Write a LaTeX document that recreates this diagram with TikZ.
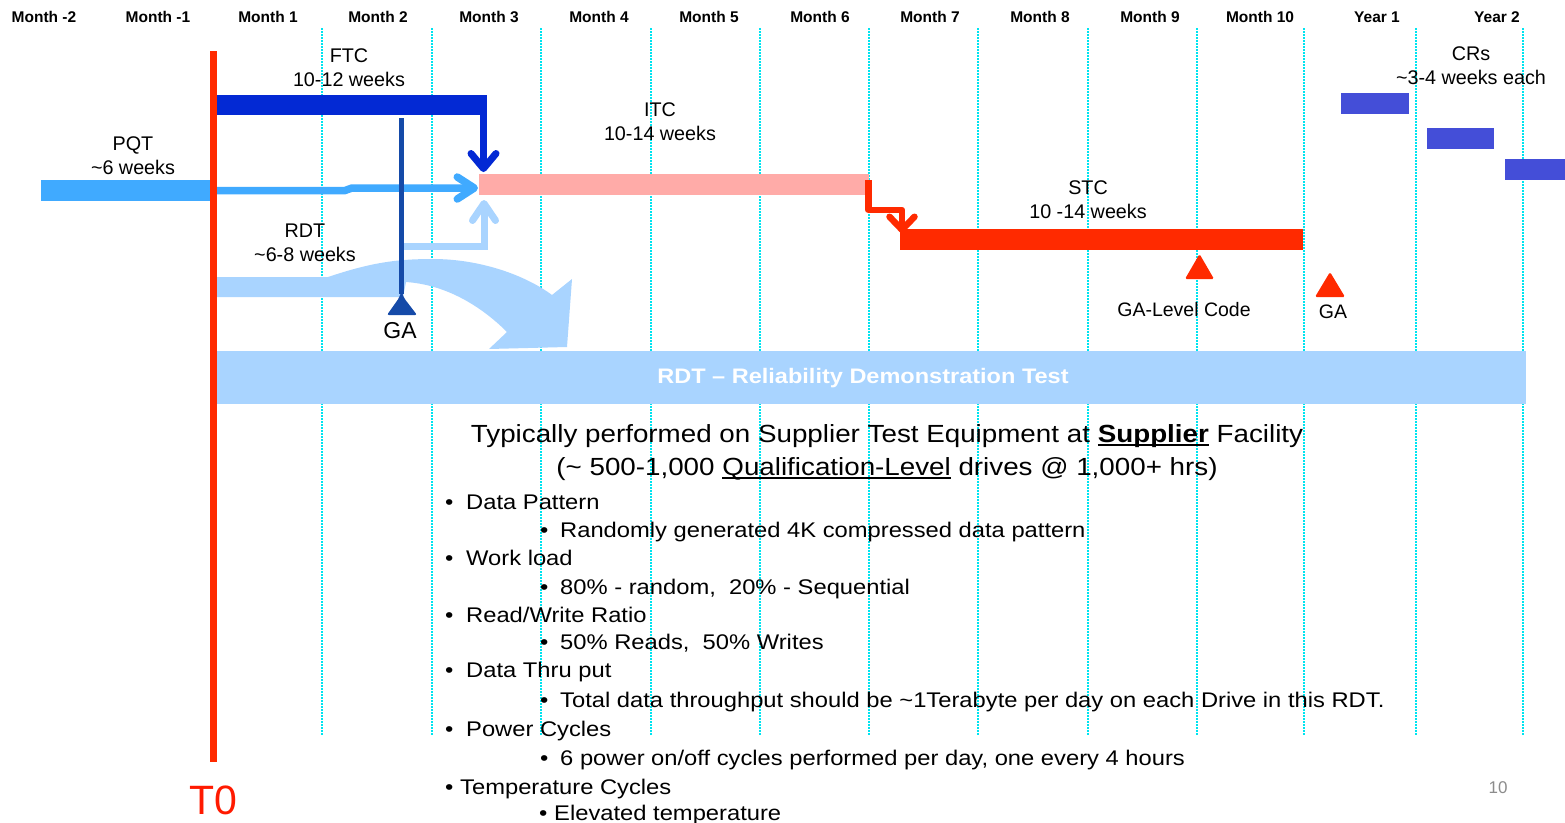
\documentclass[tikz,border=0pt]{standalone}
\usepackage{fontspec}
\setmainfont{Liberation Sans}
\newfontfamily\bodyfont[FakeStretch=1.12]{Liberation Sans}
\usetikzlibrary{arrows.meta}
\definecolor{tred}{HTML}{FF2A00}
\definecolor{tzred}{HTML}{FF1A00}
\definecolor{ftcblue}{HTML}{0329D4}
\definecolor{pqtblue}{HTML}{40AAFF}
\definecolor{rdtblue}{HTML}{A9D4FF}
\definecolor{itcpink}{HTML}{FFABA8}
\definecolor{gablue}{HTML}{154AA8}
\definecolor{crblue}{HTML}{444ED8}
\definecolor{gridcyan}{HTML}{00E4F0}
\definecolor{pagegray}{HTML}{8C8C8C}
\newcommand\myul[1]{\setbox0\hbox{#1}\rlap{\rule[-3.5pt]{\wd0}{1.8pt}}\box0\relax}
\begin{document}
\begin{tikzpicture}[x=1pt,y=-1pt,
  bar/.style={inner sep=0pt, outer sep=0pt, draw=none, anchor=north west},
  hdr/.style={font=\bfseries\fontsize{15.5}{18}\selectfont, inner sep=0pt},
  lbl/.style={font=\fontsize{19.75}{24}\selectfont, align=center, inner sep=0pt},
  gridline/.style={gridcyan, line width=2pt, dash pattern=on 1.6pt off 1.4pt},
  body/.style={font=\bodyfont\fontsize{21.2}{25}\selectfont, inner sep=0pt, anchor=base west},
  head/.style={font=\bodyfont\fontsize{24.8}{28}\selectfont, inner sep=0pt, anchor=base}
]
\fill[white] (0,0) rectangle (1565,822);
\useasboundingbox (0,0) rectangle (1565,822);

% grid
\foreach \gx in {322,432,541,651,760,869,978,1088,1197,1304,1416,1523}
  \draw[gridline] (\gx,28) -- (\gx,735);

% headers
\foreach \hx/\htxt [count=\hi] in {44/Month -2,158/Month -1,268/Month 1,378/Month 2,489/Month 3,599/Month 4,709/Month 5,820/Month 6,930/Month 7,1040/Month 8,1150/Month 9,1260/Month 10,1377/Year 1,1497/Year 2}
  \node[hdr] (hdr\hi) at (\hx,17) {\htxt};

% curved RDT arrow
\fill[rdtblue] (217,277) -- (328,277) .. controls (370,263) and (395,259) .. (433,259)
  .. controls (480,259) and (525,275) .. (552,295) -- (572,279) -- (567,347) -- (489,349)
  -- (507,332) .. controls (485,310) and (450,285) .. (406,282) -- (403,297) -- (217,297) -- cycle;

% bars
\node[bar, fill=pqtblue, minimum width=170pt, minimum height=21pt] (pqt) at (41,180) {};
\node[bar, fill=itcpink, minimum width=390pt, minimum height=21pt] (itc) at (479,174) {};
\node[bar, fill=crblue, minimum width=68pt, minimum height=21pt] (cr1) at (1341,93) {};
\node[bar, fill=crblue, minimum width=67pt, minimum height=21pt] (cr2) at (1427,128) {};
\node[bar, fill=crblue, minimum width=60pt, minimum height=21pt] (cr3) at (1505,159) {};
\node[bar, fill=rdtblue, minimum width=1309pt, minimum height=53pt] (banner) at (217,351) {};
\node[font=\bodyfont\bfseries\fontsize{21}{24}\selectfont, text=white, inner sep=0pt] (bannertext) at (863,378) {RDT – Reliability Demonstration Test};

% PQT connector
\coordinate (pqtk1) at (345,190.5);
\coordinate (pqtk2) at (352,188);
\coordinate (pqttip) at (478,188);
\draw[pqtblue, line width=7.5pt, -{Straight Barb[length=17pt,width=22pt,round]}] (pqt.east) -- (pqtk1) -- (pqtk2) -- (pqttip);

% RDT small connector
\coordinate (rdtstart) at (404,246.5);
\coordinate (rdttip) at (484,200);
\draw[rdtblue, line width=7pt, -{Straight Barb[length=17pt,width=23pt,round]}] (rdtstart) -| (rdttip);

% FTC bar and connector
\node[bar, fill=ftcblue, minimum width=270pt, minimum height=20pt] (ftc) at (217,95) {};
\coordinate (ftcdrop) at (483.5,110);
\coordinate (ftctip) at (483.5,172);
\draw[ftcblue, line width=7pt, -{Straight Barb[length=15pt,width=25pt,round]}] (ftcdrop) -- (ftctip);

% GA (blue)
\coordinate (gatop) at (401.5,118);
\coordinate (gaapex) at (401.5,294);
\draw[gablue, line width=5.5pt] (gatop) -- (gaapex);
\fill[gablue, rounded corners=2pt] (387,315) -- (399,298) -- (401.5,291) -- (404,298) -- (417,315) -- cycle;
\node[font=\fontsize{23}{26}\selectfont, inner sep=0pt] (galbl) at (400,331) {GA};

% STC connector and bar
\coordinate (stcfrom) at (868.5,180);
\coordinate (stcknee) at (902,210);
\coordinate (stctip) at (902,233);
\draw[tred, line width=6.5pt, line join=round, -{Straight Barb[length=13pt,width=25pt,round]}] (stcfrom) |- (stcknee) -- (stctip);
\node[bar, fill=tred, minimum width=403pt, minimum height=21pt] (stc) at (900,229) {};

% red milestones
\fill[tred, rounded corners=1.5pt] (1185,279) -- (1199.5,254) -- (1214,279) -- cycle;
\node[font=\fontsize{19.5}{22}\selectfont, inner sep=0pt] (galevel) at (1184,310) {GA-Level Code};
\fill[tred, rounded corners=1.5pt] (1315,297) -- (1330,272) -- (1345,297) -- cycle;
\node[font=\fontsize{19.5}{22}\selectfont, inner sep=0pt] (ga2) at (1333,312) {GA};

% T0 line
\coordinate (t0top) at (213.5,51);
\coordinate (t0bot) at (213.5,762);
\draw[tred, line width=6.5pt] (t0top) -- (t0bot);
\node[font=\fontsize{41}{44}\selectfont, text=tzred, inner sep=0pt] (t0) at (213,800) {T0};

% labels
\node[lbl] (ftclbl) at (349,68) {FTC\\10-12 weeks};
\node[lbl] (pqtlbl) at (133,156) {PQT\\\textasciitilde6 weeks};
\node[lbl] (itclbl) at (660,122) {ITC\\10-14 weeks};
\node[lbl] (rdtlbl) at (305,243) {RDT\\\textasciitilde6-8 weeks};
\node[lbl] (stclbl) at (1088,200) {STC\\10 -14 weeks};
\node[lbl] (crlbl) at (1471,66) {CRs\\\textasciitilde3-4 weeks each};

% body text
\node[head] (t1) at (887,442) {Typically performed on Supplier Test Equipment at \myul{\bfseries Supplier} Facility};
\node[head] (t2) at (887,475) {(\textasciitilde{} 500-1,000 \myul{Qualification-Level} drives @ 1,000+ hrs)};
\node[body] (b1) at (445,509) {\makebox[21pt][l]{•}Data Pattern};
\node[body] (b2) at (540,537) {\makebox[20pt][l]{•}Randomly generated 4K compressed data pattern};
\node[body] (b3) at (445,565) {\makebox[21pt][l]{•}Work load};
\node[body] (b4) at (540,594) {\makebox[20pt][l]{•}80\% - random,\ \ 20\% - Sequential};
\node[body] (b5) at (445,622) {\makebox[21pt][l]{•}Read/Write Ratio};
\node[body] (b6) at (540,649) {\makebox[20pt][l]{•}50\% Reads,\ \ 50\% Writes};
\node[body] (b7) at (445,677) {\makebox[21pt][l]{•}Data Thru put};
\node[body] (b8) at (540,707) {\makebox[20pt][l]{•}Total data throughput should be \textasciitilde1Terabyte per day on each Drive in this RDT.};
\node[body] (b9) at (445,736) {\makebox[21pt][l]{•}Power Cycles};
\node[body] (b10) at (540,765) {\makebox[20pt][l]{•}6 power on/off cycles performed per day, one every 4 hours};
\node[body] (b11) at (445,794) {\makebox[15pt][l]{•}Temperature Cycles};
\node[body] (b12) at (539,820) {\makebox[15pt][l]{•}Elevated temperature};

\node[font=\fontsize{17}{20}\selectfont, text=pagegray, inner sep=0pt] (pg) at (1498,788) {10};
\end{tikzpicture}
\end{document}
